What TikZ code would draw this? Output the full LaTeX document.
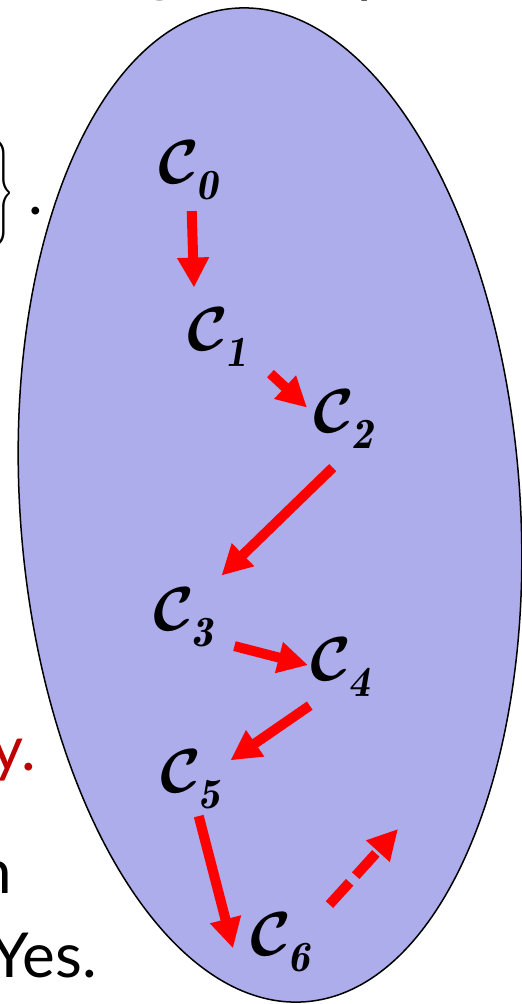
\documentclass[tikz,border=0pt]{standalone}
\usepackage{amsmath}
\usepackage{fontspec}
\newfontfamily\slidefont{Lato}
\usepackage{tikz}
\usetikzlibrary{arrows.meta, positioning}
\definecolor{SetFill}{RGB}{173,173,235}
\definecolor{FlowRed}{HTML}{FF0000}
\definecolor{NoteRed}{HTML}{C00000}
\newcommand{\cset}[1]{$\mathcal{C}_{\raisebox{-0.12em}{$\scriptstyle\mathit{#1}$}}$}

\begin{document}
\begin{tikzpicture}[x=1pt, y=-1pt,
    cnode/.style={inner sep=0pt, anchor=base west, font=\Large\boldmath, scale=4.31},
    note/.style={inner sep=0pt, anchor=base east, font=\slidefont\fontsize{62}{74}\selectfont},
    flow/.style={draw=FlowRed, line width=10pt, -{Triangle[length=30pt, width=30pt]}},
    flowd/.style={flow, dash pattern=on 30pt off 9pt}
]
\useasboundingbox (0,0) rectangle (522,1004);
\clip (0,0) rectangle (522,1004);

% The set
\draw[fill=SetFill, line width=1.5pt, rotate around={4:(270,505)}] (270,505) ellipse [x radius=250, y radius=498];

% Slide text cut by the left edge
\node[inner sep=0pt, anchor=east, font=\normalsize\boldmath, xscale=3.1, yscale=5.9] (brace) at (15,193) {$\Big\}$};
\node[note] (dot) at (43,214) {.};
\node[note, text=NoteRed] (ytail) at (36,770) {y.};
\node[note] (ntail) at (12,893) {n};
\node[note] (yes) at (97,977) {Yes.};
% descenders of the line above
\node[note, anchor=base] (gtail) at (161,-11) {g};
\node[note, anchor=base west] (ptail) at (357,-10) {p};

% Chain of sets
\foreach \i/\x/\y in {0/158/183, 1/187/350, 2/313/432, 3/153/630, 4/310/680, 5/160/792, 6/250/955}
  \node[cnode] (c\i) at (\x,\y) {\cset{\i}};

\draw[flow] ([shift={(2,10)}]c0.south) -- ([shift={(7,-19)}]c1.north west);
\draw[flow] ([shift={(20,6)}]c1.south east) -- ([shift={(-6,19)}]c2.north west);
\draw[flow] ([shift={(-12,18)}]c2.south) -- ([shift={(5,-11)}]c3.north east);
\draw[flow] ([shift={(18,-2)}]c3.south east) -- ([shift={(-2,-2)}]c4.west);
\draw[flow] ([shift={(-32,8)}]c4.south) -- ([shift={(7,-19)}]c5.east);
\draw[flow] ([shift={(7,6)}]c5.south) -- ([shift={(-17,6)}]c6.west);
\coordinate (cnext) at (398,829);
\draw[flowd] ([shift={(16,-7)}]c6.north east) -- (cnext);
\end{tikzpicture}
\end{document}
